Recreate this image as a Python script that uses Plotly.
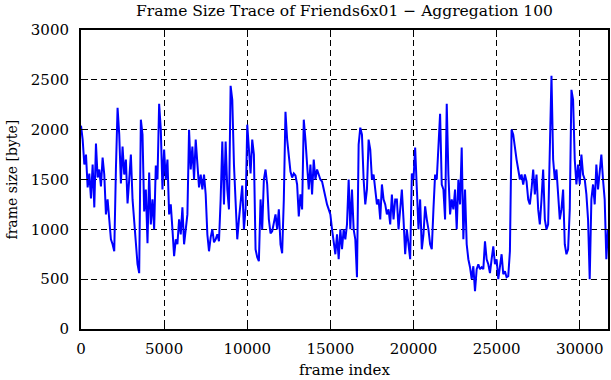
import plotly.graph_objects as go

# Aggregated frame sizes (one value per 100 frames)
frame_size = [
    2040, 1900, 1650, 1750, 1420, 1560, 1310, 1650, 1220, 1860,
    1520, 1600, 1430, 1720, 1550, 1150, 1300, 1080, 900, 850,
    780, 1600, 2220, 1950, 1460, 1830, 1550, 1700, 1260, 1500,
    1750, 1300, 1050, 900, 650, 560, 2100, 1950, 1180, 1400,
    860, 1570, 1050, 1300, 1000, 1640, 1500, 2260, 2000, 1400,
    1800, 1500, 1700, 1150, 1250, 1000, 730, 900, 850, 1100,
    950, 1220, 850, 1000, 1150, 2000, 1600, 1830, 1500, 1900,
    1650, 1420, 1550, 1400, 1550, 1350, 950, 780, 920, 1000,
    870, 900, 950, 880, 1300, 1880, 1250, 1880, 1400, 1200,
    2440, 2300, 1650, 1200, 900, 1100, 1300, 1440, 1000, 1200,
    2050, 1800, 1560, 1900, 1750, 800, 720, 680, 1300, 1000,
    1500, 1600, 1450, 1100, 960, 980, 1050, 1150, 1000, 1200,
    850, 760, 1300, 2180, 1900, 1700, 1580, 1520, 1560, 1540,
    1450, 1130, 1350, 1200, 2100, 1900, 1620, 1400, 1650, 1350,
    1700, 1500, 1600, 1550, 1500, 1480, 1400, 1300, 1250, 1200,
    1150, 1000, 850, 750, 950, 700, 1000, 800, 1000, 900,
    1050, 1500, 1000, 1400, 1000, 900, 520, 1850, 2020, 1950,
    1500, 1250, 1400, 1900, 1800, 1500, 1550, 1400, 1250, 1300,
    1100, 1450, 1300, 1250, 1150, 1200, 1050, 1350, 1100, 1300,
    1300, 1000, 1250, 1400, 1100, 750, 1000, 850, 700, 1560,
    1500, 1820, 1400, 1000, 1300, 800, 950, 1230, 1100, 1000,
    850, 800, 1200, 1550, 1500, 1800, 2160, 1450, 1400, 1100,
    2260, 1550, 1150, 1300, 1200, 1400, 1000, 1500, 1250, 1820,
    900, 1400, 850, 700, 620, 500, 630, 380, 600, 650,
    600, 620, 600, 880, 700, 650, 560, 700, 830, 650,
    700, 500, 650, 750, 550, 580, 520, 530, 780, 2000,
    1950, 1800, 1700, 1600, 1500, 1550, 1450, 1550, 1480, 1300,
    1250, 1400, 1600, 1350, 1550, 1200, 1050, 1300, 1600, 1100,
    1000, 1050, 2000, 2540, 1700, 1500, 1600, 1350, 1100, 1200,
    1400, 850, 750, 800, 1200, 2400, 2300, 1700, 1450, 1650,
    1450, 1750, 1550, 1500, 1350, 1100, 500, 1300, 1450, 1250,
    1650, 1400, 1600, 1750, 1500, 1300, 700, 1000,
]
aggregation = 100
frame_index = [i * aggregation for i in range(len(frame_size))]

x_ticks = [0, 5000, 10000, 15000, 20000, 25000, 30000]
y_ticks = [0, 500, 1000, 1500, 2000, 2500, 3000]

font_family = "DejaVu Serif"

W, H = 611, 380
ML, MR, MT, MB = 81, 3, 30, 51
PW, PH = W - ML - MR, H - MT - MB

fig = go.Figure(
    go.Scatter(
        x=frame_index,
        y=frame_size,
        mode="lines",
        line=dict(color="#0000ff", width=2),
        showlegend=False,
        hoverinfo="skip",
    )
)

axis_common = dict(
    automargin=False,
    showline=True,
    linecolor="black",
    linewidth=2,
    mirror="ticks",
    ticks="inside",
    ticklen=7,
    tickwidth=1.2,
    tickcolor="black",
    showgrid=True,
    gridcolor="black",
    gridwidth=1,
    griddash="6px,4px",
    zeroline=False,
    tickfont=dict(family=font_family, size=15, color="black"),
)

fig.update_xaxes(
    range=[0, 31700],
    tickvals=x_ticks,
    ticktext=[str(v) for v in x_ticks],
    ticklabelstandoff=5,
    **axis_common,
)
fig.update_yaxes(
    range=[0, 3000],
    tickvals=y_ticks,
    ticktext=[str(v) for v in y_ticks],
    ticklabelstandoff=7,
    **axis_common,
)

fig.add_annotation(
    text="frame index",
    xref="paper", yref="paper",
    x=0.5, y=-(370 - (MT + PH)) / PH,
    xanchor="center", yanchor="middle",
    showarrow=False,
    font=dict(family=font_family, size=15, color="black"),
)
fig.add_annotation(
    text="frame size [byte]",
    xref="paper", yref="paper",
    x=(11 - ML) / PW, y=0.5,
    xanchor="center", yanchor="middle",
    textangle=-90,
    showarrow=False,
    font=dict(family=font_family, size=14, color="black"),
)

fig.update_layout(
    width=W,
    height=H,
    margin=dict(l=ML, r=MR, t=MT, b=MB),
    paper_bgcolor="white",
    plot_bgcolor="white",
    title=dict(
        text="Frame Size Trace of Friends6x01 \u2212 Aggregation 100",
        font=dict(family=font_family, size=15.5, color="black"),
        x=0.5,
        xref="paper",
        xanchor="center",
        y=1 - 11 / H,
        yref="container",
        yanchor="middle",
    ),
)

fig.write_html(
    "out.html",
    config={"displayModeBar": False, "staticPlot": True},
    post_script="document.body.style.margin='0';document.body.style.overflow='hidden';",
)
